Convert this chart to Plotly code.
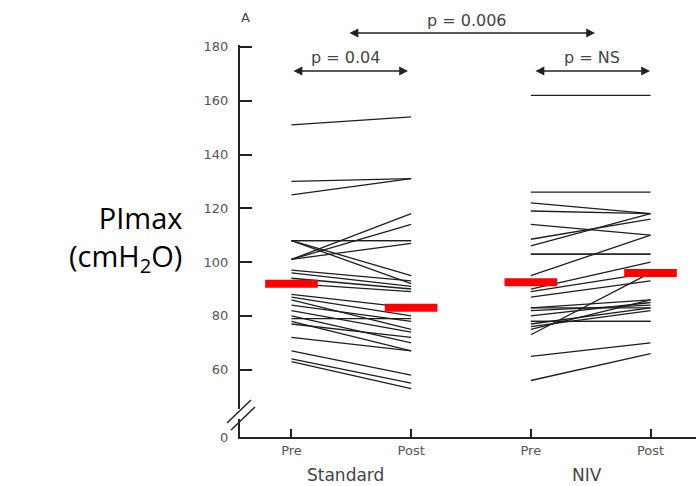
import plotly.graph_objects as go

# ---- data ----
groups = ["Standard", "NIV"]
x_labels = ["Pre", "Post", "Pre", "Post"]

std_pre = [151, 130, 125, 101, 101, 108, 108, 101, 108, 108, 97, 96, 94, 92,
           88, 87, 86, 84, 82, 80, 79, 78, 77, 72, 67, 64, 63]
std_post = [154, 131, 131, 118, 114, 108, 108, 107, 95, 92, 93, 91, 90, 89,
            83, 80, 75, 78, 74, 70, 79, 67, 72, 67, 58, 55, 53]

niv_pre = [162, 126, 122, 119, 114, 108.5, 106, 103, 103, 95, 90, 87, 89, 83,
           83, 82, 80, 78, 78, 77, 76, 73, 75, 65, 56]
niv_post = [162, 126, 118, 118, 110, 116, 118, 103, 103, 110, 100, 93, 96, 86,
            83, 84, 85, 78, 78, 83, 82, 96, 86, 70, 66]

means = [92, 83, 92.5, 96]          # red bars (Pre/Post, Standard/NIV)
y_ticks = [60, 80, 100, 120, 140, 160, 180]
p_labels = ["p = 0.006", "p = 0.04", "p = NS"]

# ---- layout geometry (pixels) ----
W, H = 696, 486
L, R, T, B = 240, 0, 45, 49
Y_BREAK = 35.0   # axis value where "0" is drawn (axis break)

def px2paper(px, py):
    return (px - L) / (W - L - R), (H - B - py) / (H - T - B)

fig = go.Figure()

# individual patient lines
for pre, post, x0 in [(std_pre, std_post, 0), (niv_pre, niv_post, 2)]:
    xs, ys = [], []
    for a, b in zip(pre, post):
        xs += [x0, x0 + 1, None]
        ys += [a, b, None]
    fig.add_trace(go.Scatter(x=xs, y=ys, mode="lines",
                             line=dict(color="#1e1e1e", width=1.3),
                             hoverinfo="skip", showlegend=False))

# red mean bars
for i, m in enumerate(means):
    fig.add_trace(go.Scatter(x=[i - 0.22, i + 0.22], y=[m, m], mode="lines",
                             line=dict(color="#ff0000", width=8),
                             hoverinfo="skip", showlegend=False))

annotations = []
# double-headed arrows (pixel geometry -> paper)
for (pxa, pxb, py) in [(348, 595, 33), (292, 408, 71), (534, 650, 71)]:
    hx, hy = px2paper(pxb, py)
    annotations.append(dict(x=hx, y=hy, ax=-(pxb - pxa), ay=0, xref="paper",
                            yref="paper", axref="pixel", ayref="pixel", text="",
                            showarrow=True, arrowhead=2, arrowside="end+start",
                            arrowsize=1.1, arrowwidth=1.6, arrowcolor="#222"))

gray_font = dict(family="DejaVu Sans", size=16, color="#444")
for txt, (px, py) in zip(p_labels, [(467, 20), (345, 57), (592, 57)]):
    xx, yy = px2paper(px, py)
    annotations.append(dict(x=xx, y=yy, text=txt, xref="paper", yref="paper",
                            xanchor="center", yanchor="middle",
                            showarrow=False, font=gray_font))

xx, yy = px2paper(245, 17)
annotations.append(dict(x=xx, y=yy, text="A", xref="paper", yref="paper",
                        xanchor="center", yanchor="middle", showarrow=False,
                        font=dict(family="DejaVu Sans", size=13, color="#444")))

for g, px in zip(groups, [345, 587]):
    xx, yy = px2paper(px, 475)
    annotations.append(dict(x=xx, y=yy, text=g, xref="paper", yref="paper",
                            xanchor="center", yanchor="middle", showarrow=False,
                            font=dict(family="DejaVu Sans", size=17, color="#444")))

# y-axis title
annotations.append(dict(xref="paper", yref="paper", x=px2paper(184, 0)[0],
                        y=px2paper(0, 238)[1], xanchor="right", yanchor="middle",
                        text="PImax<br>(cmH<sub>2</sub>O)", align="right",
                        showarrow=False,
                        font=dict(family="Open Sans", size=29, color="#000")))

# axis break marks
shapes = []
gx0, gy0 = px2paper(236, 419)
gx1, gy1 = px2paper(244, 409)
shapes.append(dict(type="rect", xref="paper", yref="paper", x0=gx0, y0=gy0,
                   x1=gx1, y1=gy1, fillcolor="white", line=dict(width=0),
                   layer="above"))
for (a, b, c, d) in [(227, 423, 251, 400), (231, 430, 255, 407)]:
    p0 = px2paper(a, b)
    p1 = px2paper(c, d)
    shapes.append(dict(type="line", xref="paper", yref="paper", x0=p0[0], y0=p0[1],
                       x1=p1[0], y1=p1[1], line=dict(color="#222", width=1.5),
                       layer="above"))

fig.update_layout(
    width=W, height=H,
    margin=dict(l=L, r=R, t=T, b=B, pad=0),
    paper_bgcolor="white", plot_bgcolor="white",
    showlegend=False,
    annotations=annotations,
    shapes=shapes,
    xaxis=dict(range=[-0.43, 3.38], tickvals=[0, 1, 2, 3], ticktext=x_labels,
               showgrid=False, zeroline=False, showline=True, linecolor="#222",
               linewidth=2, ticks="inside", ticklen=8, tickcolor="#222",
               tickwidth=1.5, tickfont=dict(family="DejaVu Sans", size=13, color="#555")),
    yaxis=dict(range=[Y_BREAK, 180.7], tickvals=[Y_BREAK] + y_ticks,
               ticktext=["0"] + [str(v) for v in y_ticks],
               showgrid=False, zeroline=False, showline=True, linecolor="#222",
               linewidth=2, ticks="inside", ticklen=12, tickcolor="#222",
               tickwidth=1.5, ticklabelstandoff=7,
               tickfont=dict(family="DejaVu Sans", size=13, color="#555")),
)

fig.write_html("out.html")
